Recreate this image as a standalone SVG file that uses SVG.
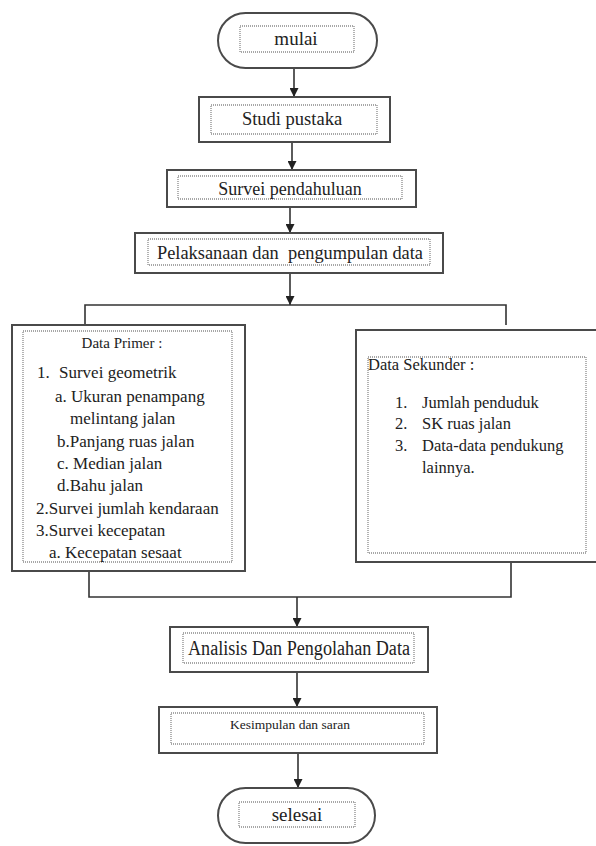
<svg xmlns="http://www.w3.org/2000/svg" width="596" height="846" viewBox="0 0 596 846">
<defs>
<marker id="arr" viewBox="0 0 10 10" refX="10" refY="5" markerWidth="9" markerHeight="9" markerUnits="userSpaceOnUse" orient="auto">
<path d="M0,0 L10,5 L0,10 Z" fill="#222"/>
</marker>
</defs>
<style>
.outer{fill:#fff;stroke:#4a4a4a;stroke-width:2}
.inner{fill:none;stroke:#8a8a8a;stroke-width:1.3;stroke-dasharray:1 1}
text{font-family:'Liberation Serif','Times New Roman','DejaVu Serif',serif;fill:#222}
.c{text-anchor:middle}
.ln{fill:none;stroke:#333;stroke-width:1.6}
</style>
<rect width="596" height="846" fill="#fff"/>

<g id="connectors">
<line class="ln" x1="294" y1="68" x2="294" y2="97" marker-end="url(#arr)"/>
<line class="ln" x1="292" y1="142" x2="292" y2="170" marker-end="url(#arr)"/>
<line class="ln" x1="290" y1="207" x2="290" y2="233" marker-end="url(#arr)"/>
<line class="ln" x1="290" y1="273" x2="290" y2="305" marker-end="url(#arr)"/>
<polyline class="ln" points="85,325 85,305 506,305 506,325"/>
<polyline class="ln" points="89,571 89,597 511,597 511,563"/>
<line class="ln" x1="297" y1="597" x2="297" y2="627" marker-end="url(#arr)"/>
<line class="ln" x1="297" y1="672" x2="297" y2="707" marker-end="url(#arr)"/>
<line class="ln" x1="298" y1="753" x2="298" y2="788" marker-end="url(#arr)"/>
</g>

<g id="mulai">
<rect class="outer" x="218" y="13" width="159" height="55" rx="27.5"/>
<rect class="inner" x="240" y="26" width="114" height="26"/>
<text class="c" x="296" y="45" font-size="19" font-family="Liberation Serif, serif">mulai</text>
</g>

<g id="studi-pustaka">
<rect class="outer" x="199" y="97" width="191" height="45"/>
<rect class="inner" x="211" y="105" width="166" height="29"/>
<text class="c" x="292" y="125" font-size="18.5">Studi pustaka</text>
</g>

<g id="survei-pendahuluan">
<rect class="outer" x="167" y="170" width="249" height="37"/>
<rect class="inner" x="178" y="176" width="224" height="23"/>
<text class="c" x="290" y="195" font-size="18">Survei pendahuluan</text>
</g>

<g id="pelaksanaan">
<rect class="outer" x="135" y="233" width="308" height="40"/>
<rect class="inner" x="148" y="239" width="282" height="26"/>
<text x="157" y="259" font-size="18.5" textLength="266" lengthAdjust="spacingAndGlyphs" xml:space="preserve">Pelaksanaan dan  pengumpulan data</text>
</g>

<g id="data-primer">
<rect class="outer" x="12" y="325" width="233" height="246"/>
<rect class="inner" x="23" y="331" width="209" height="231"/>
<text class="c" x="122" y="348" font-size="15">Data Primer :</text>
<text font-size="17">
<tspan x="37" y="378">1.</tspan><tspan x="59" y="378">Survei geometrik</tspan>
<tspan x="55" y="402">a. Ukuran penampang</tspan>
<tspan x="70" y="424">melintang jalan</tspan>
<tspan x="57" y="447">b.Panjang ruas jalan</tspan>
<tspan x="57" y="469">c. Median jalan</tspan>
<tspan x="57" y="491">d.Bahu jalan</tspan>
<tspan x="36" y="514">2.Survei jumlah kendaraan</tspan>
<tspan x="36" y="536">3.Survei kecepatan</tspan>
<tspan x="49" y="558">a. Kecepatan sesaat</tspan>
</text>
</g>

<g id="data-sekunder">
<rect class="outer" x="356" y="330" width="245" height="232"/>
<rect class="inner" x="368" y="357" width="218" height="196"/>
<text x="368" y="370" font-size="16.5">Data Sekunder :</text>
<text font-size="16.5">
<tspan x="395" y="408">1.</tspan><tspan x="422" y="408">Jumlah penduduk</tspan>
<tspan x="395" y="429">2.</tspan><tspan x="422" y="429">SK ruas jalan</tspan>
<tspan x="395" y="451">3.</tspan><tspan x="422" y="451">Data-data pendukung</tspan>
<tspan x="422" y="473">lainnya.</tspan>
</text>
</g>

<g id="analisis">
<rect class="outer" x="170" y="627" width="258" height="45"/>
<rect class="inner" x="183" y="633" width="231" height="30"/>
<text x="188" y="655" font-size="20" textLength="222" lengthAdjust="spacingAndGlyphs">Analisis Dan Pengolahan Data</text>
</g>

<g id="kesimpulan">
<rect class="outer" x="159" y="707" width="278" height="46"/>
<rect class="inner" x="171" y="713" width="253" height="31"/>
<text class="c" x="290" y="729" font-size="13.5">Kesimpulan dan saran</text>
</g>

<g id="selesai">
<rect class="outer" x="218" y="788" width="157" height="55" rx="27.5"/>
<rect class="inner" x="239" y="802" width="116" height="25"/>
<text class="c" x="297" y="821" font-size="19">selesai</text>
</g>
</svg>
